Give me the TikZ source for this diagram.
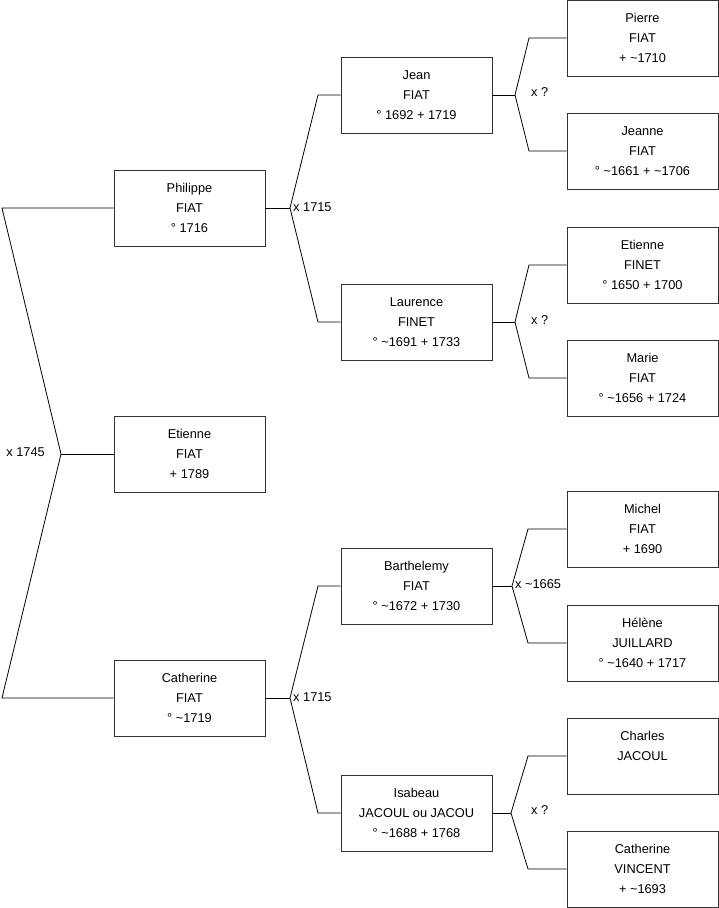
\documentclass[tikz,border=0pt]{standalone}
\usepackage{fontspec}
\setmainfont{Liberation Sans}
\begin{document}
\begin{tikzpicture}[x=1pt,y=-1pt,
  person/.style={draw=black!80, line width=0.8pt, minimum width=151pt, minimum height=76pt,
    inner sep=0pt, align=center, font=\fontsize{12.8}{20}\selectfont},
  conn/.style={draw=black, line width=0.8pt},
  lbl/.style={inner sep=0pt, font=\fontsize{12.8}{15}\selectfont}]
\useasboundingbox (0,0) rectangle (719,908);
% generation 1
\node[person] (philippe) at (189.5,208) {Philippe\\FIAT\\° 1716};
\node[person] (etienne) at (189.5,454) {Etienne\\FIAT\\ + 1789};
\node[person] (catherine) at (189.5,698) {Catherine\\FIAT\\° \textasciitilde1719};
% generation 2
\node[person] (jean) at (416.5,95) {Jean\\FIAT\\° 1692 + 1719};
\node[person] (laurence) at (416.5,322) {Laurence\\FINET\\° \textasciitilde1691 + 1733};
\node[person] (barth) at (416.5,586) {Barthelemy\\FIAT\\° \textasciitilde1672 + 1730};
\node[person] (isabeau) at (416.5,813) {Isabeau\\JACOUL ou JACOU\\° \textasciitilde1688 + 1768};
% generation 3
\node[person] (pierre) at (642.5,38) {Pierre\\FIAT\\+ \textasciitilde1710};
\node[person] (jeanne) at (642.5,151) {Jeanne\\FIAT\\° \textasciitilde1661 + \textasciitilde1706};
\node[person] (etiennef) at (642.5,265) {Etienne\\FINET\\° 1650 + 1700};
\node[person] (marie) at (642.5,378) {Marie\\FIAT\\° \textasciitilde1656 + 1724};
\node[person] (michel) at (642.5,529) {Michel\\FIAT\\+ 1690};
\node[person] (helene) at (642.5,643) {Hélène\\JUILLARD\\° \textasciitilde1640 + 1717};
\node[person] (charles) at (642.5,756) {Charles\\JACOUL\\~};
\node[person] (catherinev) at (642.5,869) {Catherine\\VINCENT\\+ \textasciitilde1693};
% junctions level 1
\coordinate (j0) at (61,454);
\coordinate (a0) at (2,208);
\coordinate (b0) at (2,698);
\draw[conn] (etienne.west) -- (j0);
\draw[conn] (philippe.west) -- (a0) -- (j0) -- (b0) -- (catherine.west);
\node[lbl, anchor=east] (l0) at (45,452) {x 1745};
% level 2
\coordinate (j1) at (290,208);
\coordinate (a1) at (318,95);
\coordinate (b1) at (318,322);
\draw[conn] (philippe.east) -- (j1);
\draw[conn] (jean.west) -- (a1) -- (j1) -- (b1) -- (laurence.west);
\node[lbl, anchor=west] (l1) at (293,207) {x 1715};
\coordinate (j2) at (290,698);
\coordinate (a2) at (318,586);
\coordinate (b2) at (318,813);
\draw[conn] (catherine.east) -- (j2);
\draw[conn] (barth.west) -- (a2) -- (j2) -- (b2) -- (isabeau.west);
\node[lbl, anchor=west] (l2) at (293,697) {x 1715};
% level 3
\coordinate (j3) at (515,95);
\coordinate (a3) at (529,38);
\coordinate (b3) at (529,151);
\draw[conn] (jean.east) -- (j3);
\draw[conn] (pierre.west) -- (a3) -- (j3) -- (b3) -- (jeanne.west);
\node[lbl, anchor=west] (l3) at (531,92) {x ?};
\coordinate (j4) at (515,322);
\coordinate (a4) at (529,265);
\coordinate (b4) at (529,378);
\draw[conn] (laurence.east) -- (j4);
\draw[conn] (etiennef.west) -- (a4) -- (j4) -- (b4) -- (marie.west);
\node[lbl, anchor=west] (l4) at (531,320) {x ?};
\coordinate (j5) at (512,586);
\coordinate (a5) at (528,529);
\coordinate (b5) at (528,643);
\draw[conn] (barth.east) -- (j5);
\draw[conn] (michel.west) -- (a5) -- (j5) -- (b5) -- (helene.west);
\node[lbl, anchor=west] (l5) at (515,584) {x \textasciitilde1665};
\coordinate (j6) at (511,813);
\coordinate (a6) at (528,756);
\coordinate (b6) at (528,869);
\draw[conn] (isabeau.east) -- (j6);
\draw[conn] (charles.west) -- (a6) -- (j6) -- (b6) -- (catherinev.west);
\node[lbl, anchor=west] (l6) at (531,810) {x ?};
\end{tikzpicture}
\end{document}
